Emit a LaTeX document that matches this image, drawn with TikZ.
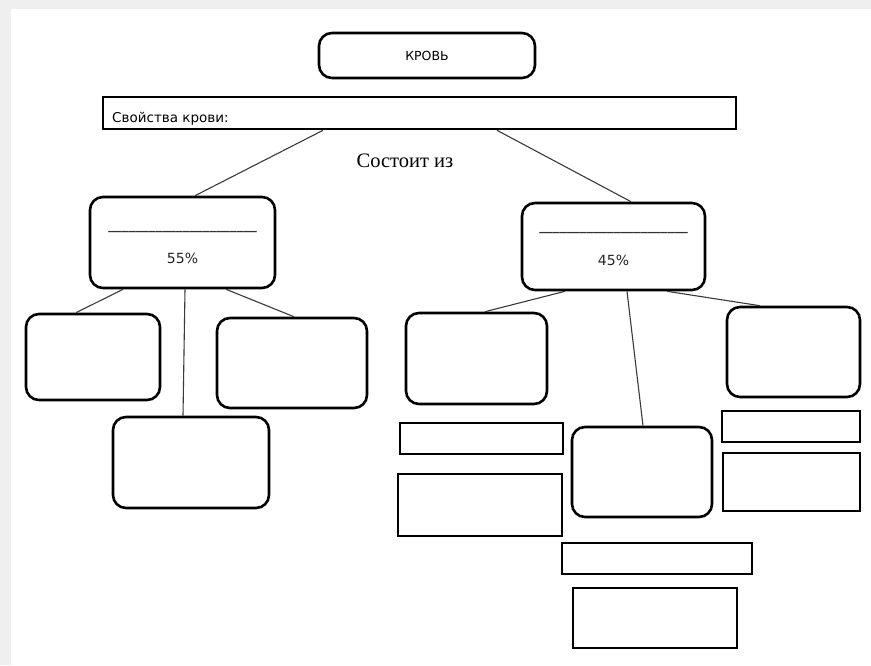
\documentclass[tikz,border=0pt]{standalone}
\usepackage{fontspec}
\setmainfont{DejaVu Sans}
\newfontfamily\serifru{Liberation Serif}
\definecolor{graybg}{HTML}{F0EFF0}
\definecolor{connc}{HTML}{3A3A3A}
\begin{document}
\begin{tikzpicture}[x=1pt,y=-1pt,
  rbox/.style={draw=black, line width=2.6pt, rounded corners=13pt, fill=white, anchor=north west, inner sep=0pt, outer sep=0pt},
  sbox/.style={draw=black, line width=2.6pt, fill=white, anchor=north west, inner sep=0pt, outer sep=0pt},
  conn/.style={draw=connc, line width=1.1pt},
  small/.style={font=\fontsize{12.5}{14}\selectfont},
  pct/.style={font=\fontsize{14}{16}\selectfont, text=black!85},
  uline/.style={font=\bfseries\fontsize{13.5}{16}\selectfont, text=black!80}]
\fill[graybg] (0,0) rectangle (871,665);
\fill[white] (11,9) rectangle (871,665);
\useasboundingbox (0,0) rectangle (871,665);

% boxes
\node[rbox, minimum width=216pt, minimum height=45pt, small] (blood) at (319,33) {КРОВЬ};
\node[sbox, minimum width=633pt, minimum height=32pt] (props) at (103,97) {};
\node[anchor=base west, font=\fontsize{13.5}{15}\selectfont, inner sep=0pt] (propstxt) at (112,122) {Свойства крови:};
\node[anchor=base, font=\serifru\fontsize{20.5}{24}\selectfont, inner sep=0pt] (consists) at (405,167) {Состоит из};

\node[rbox, minimum width=185pt, minimum height=91pt] (midL) at (90,197) {};
\node[rbox, minimum width=183pt, minimum height=87pt] (midR) at (522,203) {};
\node[anchor=base, uline, inner sep=0pt] (lineL) at (182.5,229.5) {\_\_\_\_\_\_\_\_\_\_\_\_\_\_\_\_\_\_\_\_\_\_};
\node[anchor=base, pct, inner sep=0pt] (pctL) at (182.5,263) {55\%};
\node[anchor=base, uline, inner sep=0pt] (lineR) at (613.5,230.5) {\_\_\_\_\_\_\_\_\_\_\_\_\_\_\_\_\_\_\_\_\_\_};
\node[anchor=base, pct, inner sep=0pt] (pctR) at (613.5,265) {45\%};

% left group
\node[rbox, minimum width=134pt, minimum height=86pt] (bA) at (26,314) {};
\node[rbox, minimum width=150pt, minimum height=90pt] (bB) at (217,318) {};
\node[rbox, minimum width=156pt, minimum height=91pt] (bC) at (113,417) {};

% right group
\node[rbox, minimum width=141pt, minimum height=91pt] (bD) at (406,313) {};
\node[rbox, minimum width=133pt, minimum height=90pt] (bE) at (727,307) {};
\node[rbox, minimum width=140pt, minimum height=90pt] (bG) at (572,427) {};

\node[sbox, minimum width=163pt, minimum height=31pt] (f1) at (400,423) {};
\node[sbox, minimum width=164pt, minimum height=62pt] (f2) at (398,474) {};
\node[sbox, minimum width=138pt, minimum height=31pt] (h1) at (722,411) {};
\node[sbox, minimum width=137pt, minimum height=58pt] (h2) at (723,453) {};
\node[sbox, minimum width=190pt, minimum height=31pt] (i1) at (562,543) {};
\node[sbox, minimum width=164pt, minimum height=60pt] (i2) at (573,588) {};

% connectors
\draw[conn] ([xshift=220pt,yshift=-1.3pt]props.south west) -- ([xshift=105pt,yshift=1.3pt]midL.north west);
\draw[conn] ([xshift=394pt,yshift=-1.3pt]props.south west) -- ([xshift=109pt,yshift=1.3pt]midR.north west);

\draw[conn] ([xshift=33pt,yshift=-1.3pt]midL.south west) -- ([xshift=50pt,yshift=1.3pt]bA.north west);
\draw[conn] ([xshift=95pt,yshift=-1.3pt]midL.south west) -- ([xshift=70pt,yshift=1.3pt]bC.north west);
\draw[conn] ([xshift=136pt,yshift=-1.3pt]midL.south west) -- ([xshift=77pt,yshift=1.3pt]bB.north west);

\draw[conn] ([xshift=43pt,yshift=-1.3pt]midR.south west) -- ([xshift=79pt,yshift=1.3pt]bD.north west);
\draw[conn] ([xshift=105pt,yshift=-1.3pt]midR.south west) -- ([xshift=71pt,yshift=1.3pt]bG.north west);
\draw[conn] ([xshift=145pt,yshift=-1.3pt]midR.south west) -- ([xshift=33pt,yshift=1.3pt]bE.north west);
\end{tikzpicture}
\end{document}
